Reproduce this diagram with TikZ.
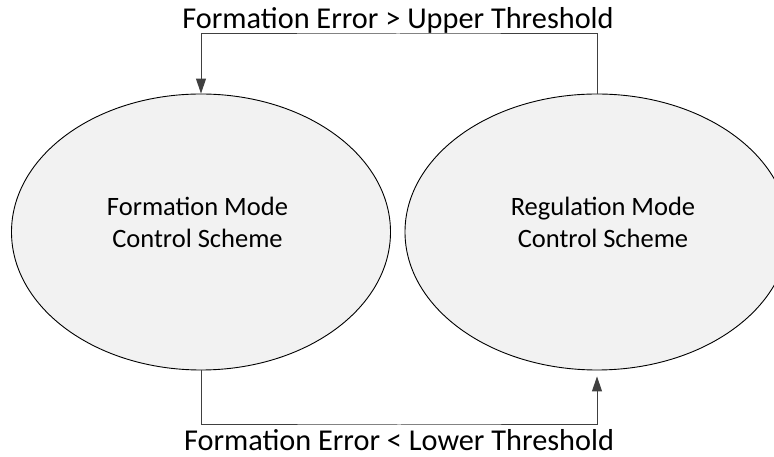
\documentclass[tikz,border=0pt]{standalone}
\usepackage{fontspec}
\setmainfont{Carlito}
\usepackage{xcolor}
\usepackage{tikz}
\usetikzlibrary{shapes.geometric, arrows.meta, positioning}

\definecolor{modefill}{HTML}{F2F2F2}
\definecolor{wire}{HTML}{404040}

\begin{document}
\begin{tikzpicture}[
    x=1pt, y=1pt,
    mode/.style={ellipse, draw=black, fill=modefill, line width=0.9pt, inner sep=0pt},
    modetext/.style={font=\fontsize{26.5}{32}\selectfont, align=center, inner sep=0pt},
    cond/.style={font=\fontsize{30.3}{36}\selectfont, inner sep=0pt},
    arrow/.style={-{Triangle[length=15pt, width=10pt]}, draw=wire, line width=1pt}
]
\useasboundingbox (0,0) rectangle (774,457);

% Modes
\node[mode, minimum width=379pt, minimum height=276pt] (form) at (201,225) {};
\node[mode, minimum width=384pt, minimum height=276pt] (reg) at (597,225) {};
\node[modetext] (formtext) at ([xshift=-3.5pt, yshift=10pt]form.center) {Formation Mode\\Control Scheme};
\node[modetext] (regtext) at ([xshift=6pt, yshift=10pt]reg.center) {Regulation Mode\\Control Scheme};

% Switching conditions
\node[cond, anchor=base] (up) at (398,428) {Formation Error > Upper Threshold};
\node[cond, anchor=base] (low) at (399,6.5) {Formation Error < Lower Threshold};
\coordinate (topbend) at (398,423);
\coordinate (botbend) at (399,32);

% Arrows
\draw[arrow] (reg.north) |- (topbend) -| (form.north);
\draw[arrow] (form.south) |- (botbend) -| ([yshift=-6pt]reg.south);

\end{tikzpicture}
\end{document}
